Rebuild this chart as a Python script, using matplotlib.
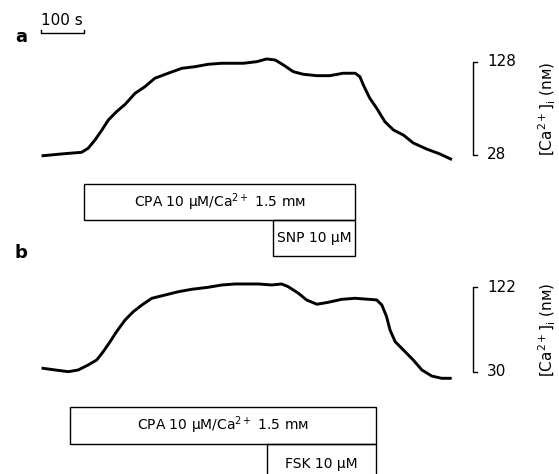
import numpy as np
import matplotlib
matplotlib.use("Agg")
import matplotlib.pyplot as plt
from matplotlib.patches import Rectangle

plt.rcParams['font.family'] = ['DejaVu Sans']
plt.rcParams['mathtext.fontset'] = 'dejavusans'

# trace a: time (s) and [Ca2+]i (nM)
t_a = [0, 43, 90, 105, 121, 137, 152, 171, 191, 214, 237, 260, 291, 323, 353, 384,
       416, 443, 466, 497, 520, 540, 559, 582, 605, 637, 667, 698, 726, 737, 745,
       760, 776, 795, 815, 838, 861, 892, 923, 948]
ca_a = [27.2, 29.1, 30.9, 35.2, 44.1, 54.8, 65.5, 74.4, 82.3, 94.1, 101.2, 110.2,
        115.6, 120.9, 122.6, 125.2, 126.3, 126.3, 126.3, 128.0, 130.9, 129.8, 124.5,
        117.3, 114.5, 113.0, 113.0, 115.6, 115.6, 111.9, 103.0, 88.8, 78.1, 63.7,
        54.8, 49.4, 40.9, 34.4, 29.1, 23.7]

# trace b
t_b = [0, 28, 59, 82, 105, 125, 140, 156, 171, 191, 210, 230, 253, 284, 315, 346,
       384, 416, 447, 477, 501, 532, 555, 570, 594, 613, 637, 663, 695, 726, 757,
       776, 788, 799, 807, 819, 838, 861, 881, 904, 927, 947]
ca_b = [33.7, 31.9, 30.0, 31.9, 37.3, 42.8, 51.8, 62.7, 73.6, 86.4, 95.4, 102.7,
        110.0, 113.6, 117.2, 119.8, 122.0, 124.5, 125.6, 125.6, 125.6, 124.5, 125.6,
        122.7, 115.5, 108.2, 103.5, 105.6, 108.9, 110.0, 108.9, 108.2, 102.7, 90.0,
        75.5, 62.7, 53.7, 42.8, 31.9, 25.3, 22.8, 22.8]

# drug applications (s)
cpa_a = (95, 726)
snp_a = (534, 726)
cpa_b = (63, 774)
fsk_b = (522, 774)

scale_a = (28, 128)
scale_b = (30, 122)

cpa_label = r'CPA 10 μM/Ca$^{2+}$ 1.5 mᴍ'
ylab = r'[Ca$^{2+}$]$_{\rm i}$ (nᴍ)'

fig = plt.figure(figsize=(5.59, 4.74), dpi=100)
ax_a = fig.add_axes([0, 0.5, 1, 0.5])
ax_b = fig.add_axes([0, 0, 1, 0.5])
ax_a.set_ylim(-59.9, 194.1)
ax_b.set_ylim(-81.5, 176.8)

for ax in (ax_a, ax_b):
    ax.set_xlim(-100, 1200)
    ax.axis('off')
    ax.patch.set_visible(False)

ax_a.plot(t_a, ca_a, color='black', lw=2.1)
ax_b.plot(t_b, ca_b, color='black', lw=2.1)


def box(ax, span, y0, y1, text=None, ty=None):
    tr = ax.get_xaxis_transform()
    r = Rectangle((span[0], y0), span[1] - span[0], y1 - y0, transform=tr,
                  fill=False, ec='black', lw=1.0, clip_on=False)
    ax.add_patch(r)
    if text:
        if ty is None:
            ty = (y0 + y1) / 2
        ax.text((span[0] + span[1]) / 2, ty, text, transform=tr, ha='center',
                va='center', fontsize=10)


box(ax_a, cpa_a, 0.0717, 0.2224, cpa_label)
box(ax_a, snp_a, -0.079, 0.0717, 'SNP 10 μM')
box(ax_b, cpa_b, 0.1266, 0.2814, cpa_label)
box(ax_b, fsk_b, -0.06, 0.1266, 'FSK 10 μM', ty=0.042)


def conc_scale(ax, lo, hi):
    x0, tick = 1000, 10
    ax.plot([x0 + tick, x0, x0, x0 + tick], [lo, lo, hi, hi], color='black', lw=1.0)
    ax.text(1033, hi, str(hi), ha='left', va='center', fontsize=11)
    ax.text(1033, lo, str(lo), ha='left', va='center', fontsize=11)
    ax.text(1172, (lo + hi) / 2, ylab, rotation=90, ha='center', va='center',
            fontsize=11)


conc_scale(ax_a, *scale_a)
conc_scale(ax_b, *scale_b)

# time scale bar
ax_a.plot([-5, -5, 95, 95], [161.5, 158.8, 158.8, 161.5], color='black', lw=1.0)
ax_a.text(45, 164, '100 s', ha='center', va='bottom', fontsize=11)

fig.text(21.5 / 559, 1 - 37 / 474, 'a', fontsize=13, fontweight='bold',
         ha='center', va='center')
fig.text(20.5 / 559, 1 - 253 / 474, 'b', fontsize=13, fontweight='bold',
         ha='center', va='center')

fig.savefig('out.png', dpi=100)
